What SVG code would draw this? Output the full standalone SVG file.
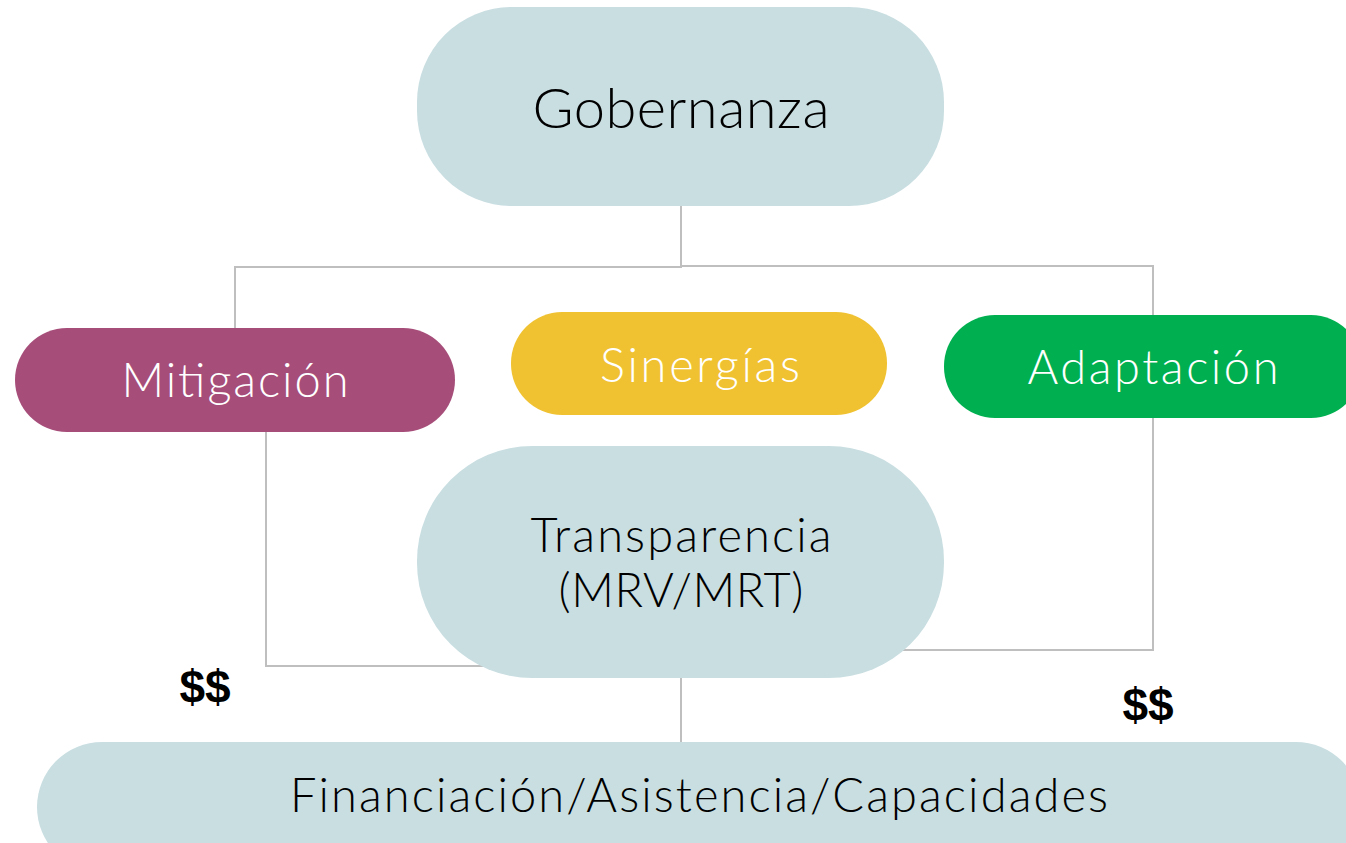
<svg xmlns="http://www.w3.org/2000/svg" width="1346" height="843" viewBox="0 0 1346 843">
<style>
.lbl{font-family:Lato,"Noto Sans","Liberation Sans",sans-serif;font-weight:300;text-anchor:middle}
.dark{fill:#000}
.light{fill:#fff}
.conn{fill:none;stroke:#BFBFBF;stroke-width:2}
.money{font-family:"Liberation Sans",Arial,sans-serif;font-weight:bold;font-size:46px;fill:#000;text-anchor:middle}
</style>
<rect width="1346" height="843" fill="#fff"/>
<g id="connectors">
<polyline class="conn" points="681,206 681,267 235,267 235,328"/>
<polyline class="conn" points="681,266 1153,266 1153,315"/>
<polyline class="conn" points="266,432 266,666 500,666"/>
<polyline class="conn" points="1153,418 1153,650 900,650"/>
<line class="conn" x1="681" y1="678" x2="681" y2="742"/>
</g>
<g id="gobernanza">
<rect x="417" y="7" width="527" height="199" rx="95" fill="#C9DEE1"/>
<text class="lbl dark" x="681" y="128" font-size="56" textLength="297" lengthAdjust="spacing">Gobernanza</text>
</g>
<g id="mitigacion">
<rect x="15" y="328" width="440" height="104" rx="52" fill="#A64D79"/>
<text class="lbl light" x="235" y="397" font-size="47" textLength="227" lengthAdjust="spacing">Mitigación</text>
</g>
<g id="sinergias">
<rect x="511" y="312" width="376" height="103" rx="51" fill="#F0C231"/>
<text class="lbl light" x="700" y="382" font-size="47" textLength="200" lengthAdjust="spacing">Sinergías</text>
</g>
<g id="adaptacion">
<rect x="944" y="315" width="418" height="103" rx="51" fill="#00B050"/>
<text class="lbl light" x="1153" y="384" font-size="47" textLength="251" lengthAdjust="spacing">Adaptación</text>
</g>
<g id="transparencia">
<rect x="417" y="446" width="527" height="232" rx="115" fill="#C9DEE1"/>
<text class="lbl dark" x="681" y="552" font-size="47" textLength="301" lengthAdjust="spacing">Transparencia</text>
<text class="lbl dark" x="681" y="607" font-size="47" textLength="245" lengthAdjust="spacing">(MRV/MRT)</text>
</g>
<g id="financiacion">
<rect x="37" y="742" width="1324" height="130" rx="65" fill="#C9DEE1"/>
<text class="lbl dark" x="699" y="812" font-size="47" textLength="818" lengthAdjust="spacing">Financiación/Asistencia/Capacidades</text>
</g>
<g id="money">
<text class="money" x="205" y="703">$$</text>
<text class="money" x="1148" y="721">$$</text>
</g>
</svg>
